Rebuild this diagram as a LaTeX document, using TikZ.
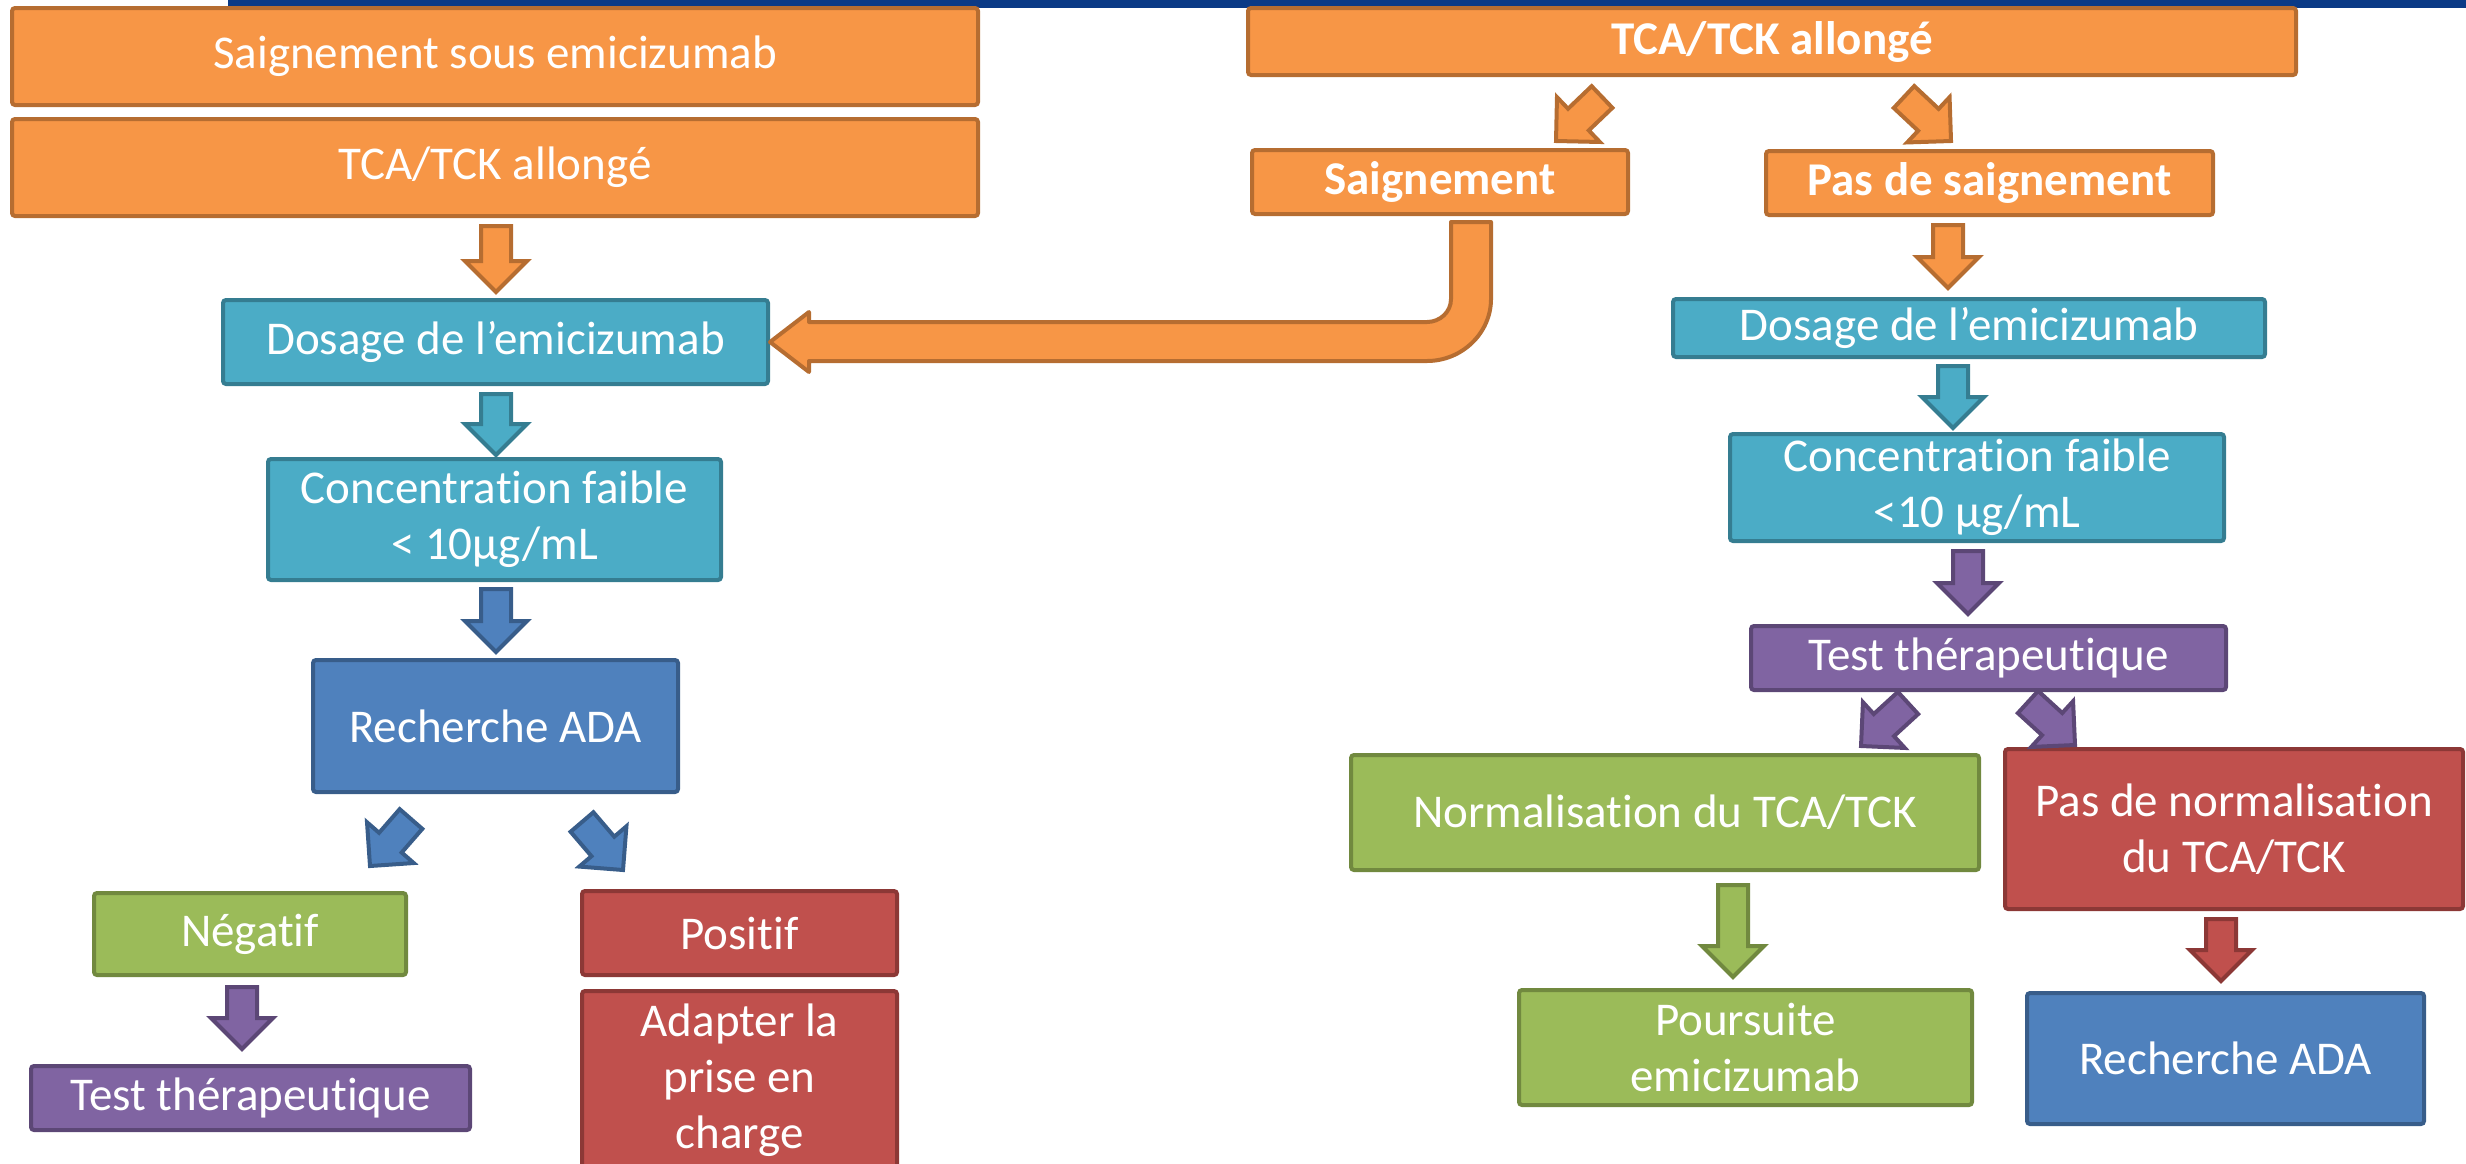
\documentclass[tikz,border=0pt]{standalone}
\usepackage{fontspec}
\setmainfont{Carlito}[Ligatures=NoCommon]
\usetikzlibrary{calc}
\definecolor{oF}{HTML}{F79646}\definecolor{oD}{HTML}{B66D31}
\definecolor{tF}{HTML}{4BACC6}\definecolor{tD}{HTML}{357D91}
\definecolor{bF}{HTML}{4F81BD}\definecolor{bD}{HTML}{385D8A}
\definecolor{pF}{HTML}{8064A2}\definecolor{pD}{HTML}{5C4776}
\definecolor{gF}{HTML}{9BBB59}\definecolor{gD}{HTML}{71893F}
\definecolor{rF}{HTML}{C0504D}\definecolor{rD}{HTML}{8C3836}
\definecolor{barblue}{HTML}{0A3A86}
\newcommand\blockarr[3]{%
  \coordinate (bA) at #2; \coordinate (bB) at #3;
  \coordinate (bH) at ($(bB)!15.5pt!(bA)$);
  \path[#1] ($(bA)!7.5pt!90:(bB)$) -- ($(bH)!7.5pt!90:(bB)$) -- ($(bH)!15.5pt!90:(bB)$)
    -- (bB) -- ($(bH)!15.5pt!-90:(bB)$) -- ($(bH)!7.5pt!-90:(bB)$) -- ($(bA)!7.5pt!-90:(bB)$) -- cycle;}
\begin{document}
\begin{tikzpicture}[x=0.5pt,y=-0.5pt,
  box/.style={line width=2pt, rounded corners=1.5pt, inner sep=0pt, align=center, text=white,
    font=\fontsize{23.5}{28}\selectfont},
  obox/.style={box, draw=oD, fill=oF},
  tbox/.style={box, draw=tD, fill=tF},
  bluebox/.style={box, draw=bD, fill=bF},
  pbox/.style={box, draw=pD, fill=pF},
  gbox/.style={box, draw=gD, fill=gF},
  rbox/.style={box, draw=rD, fill=rF},
  arr/.style={line width=2pt, line join=miter},
  oarr/.style={arr, draw=oD, fill=oF},
  tarr/.style={arr, draw=tD, fill=tF},
  bluearr/.style={arr, draw=bD, fill=bF},
  parr/.style={arr, draw=pD, fill=pF},
  garr/.style={arr, draw=gD, fill=gF},
  rarr/.style={arr, draw=rD, fill=rF}]
\useasboundingbox (0,0) rectangle (2466,1163);
\clip (0,0) rectangle (2466,1163);
\fill[barblue] (228,0) rectangle (2466,8);
% left column
\node[obox, minimum width=483pt, minimum height=48.5pt] (b1) at (495,56.5) {Saignement sous emicizumab};
\node[obox, minimum width=483pt, minimum height=48.5pt] (b2) at (495,167.5) {TCA/TCK allongé};
\node[tbox, minimum width=272.5pt, minimum height=42pt] (dosL) at (495.5,342) {Dosage de l’emicizumab};
\node[tbox, minimum width=226.5pt, minimum height=60.5pt] (concL) at (494.5,519.5) {Concentration faible\\< 10µg/mL};
\node[bluebox, minimum width=182.5pt, minimum height=66pt] (adaL) at (495.5,726) {Recherche ADA};
\node[gbox, minimum width=156pt, minimum height=41pt] (neg) at (250,934) {Négatif};
\node[rbox, minimum width=157.5pt, minimum height=42pt] (pos) at (739.5,933) {Positif};
\node[rbox, minimum width=157.5pt, minimum height=89pt] (adapt) at (739.5,1080) {Adapter la\\prise en\\charge};
\node[pbox, minimum width=219.5pt, minimum height=32pt] (testL) at (250.5,1098) {Test thérapeutique};
% right column
\node[obox, minimum width=524pt, minimum height=33.5pt, font=\fontsize{23.5}{28}\selectfont\bfseries] (top) at (1772,41.5) {TCA/TCK allongé};
\node[obox, minimum width=188pt, minimum height=32pt, font=\fontsize{23.5}{28}\selectfont\bfseries] (saign) at (1440,182) {Saignement};
\node[obox, minimum width=223.5pt, minimum height=32pt, font=\fontsize{23.5}{28}\selectfont\bfseries] (pas) at (1989.5,183) {Pas de saignement};
\node[tbox, minimum width=296pt, minimum height=29pt] (dosR) at (1969,328) {Dosage de l’emicizumab};
\node[tbox, minimum width=247pt, minimum height=53.5pt] (concR) at (1977,487.5) {Concentration faible\\<10 µg/mL};
\node[pbox, minimum width=237.5pt, minimum height=32pt] (testR) at (1988.5,658) {Test thérapeutique};
\node[gbox, minimum width=314pt, minimum height=57.5pt] (norm) at (1665,812.5) {Normalisation du TCA/TCK};
\node[rbox, minimum width=229pt, minimum height=80pt] (pasnorm) at (2234,829) {Pas de normalisation\\du TCA/TCK};
\node[gbox, minimum width=226.5pt, minimum height=57.5pt] (pours) at (1745.5,1047.5) {Poursuite\\emicizumab};
\node[bluebox, minimum width=198.5pt, minimum height=65.5pt] (adaR) at (2225.5,1058.5) {Recherche ADA};
% block arrows, left
\blockarr{oarr}{($(b2.south)+(1,8)$)}{($(dosL.north)+(0.5,-6)$)}
\blockarr{tarr}{($(dosL.south)+(0.5,8)$)}{($(concL.north)+(1.5,-2)$)}
\blockarr{bluearr}{($(concL.south)+(1.5,7)$)}{($(adaL.north)+(0.5,-6)$)}
\blockarr{bluearr}{($(adaL.south)+(-84.5,25)$)}{($(neg.north)+(120,-25)$)}
\blockarr{bluearr}{($(adaL.south)+(86.5,28)$)}{($(pos.north)+(-116.5,-19)$)}
\blockarr{parr}{($(neg.south)+(-8,10)$)}{($(testL.north)+(-8.5,-15)$)}
% block arrows, right
\blockarr{oarr}{($(top.south)+(-170,20)$)}{($(saign.north)+(116,-7)$)}
\blockarr{oarr}{($(top.south)+(132,20)$)}{($(pas.north)+(-38.5,-8)$)}
\blockarr{oarr}{($(pas.south)+(-41.5,8)$)}{($(dosR.north)+(-21,-9)$)}
\blockarr{tarr}{($(dosR.south)+(-16,7)$)}{($(concR.north)+(-24,-4)$)}
\blockarr{parr}{($(concR.south)+(-9,8)$)}{($(testR.north)+(-20.5,-10)$)}
\blockarr{parr}{($(testR.south)+(-80.5,11)$)}{($(norm.north)+(196,-7)$)}
\blockarr{parr}{($(testR.south)+(39.5,10)$)}{($(pasnorm.north)+(-159,-2)$)}
\blockarr{garr}{($(norm.south)+(68,13)$)}{($(pours.north)+(-12.5,-11)$)}
\blockarr{rarr}{($(pasnorm.south)+(-13,8)$)}{($(adaR.north)+(-4.5,-10)$)}
% bent arrow from Saignement to left dosage
\path[oarr, line join=round] let \p1=($(saign.south)+(31,6)$), \p2=(dosL.east) in
  (\x1-10pt,\y1) -- (\x1+10pt,\y1) -- (\x1+10pt,\y2+21.5pt)
  .. controls (\x1+10pt,\y2+4.5pt) and (\x1-4.5pt,\y2-9.5pt) .. (\x1-22pt,\y2-9.5pt)
  -- (\x2+19.5pt,\y2-9.5pt) -- (\x2+19.5pt,\y2-15pt) -- (\x2,\y2) -- (\x2+19.5pt,\y2+15pt)
  -- (\x2+19.5pt,\y2+10pt) -- (\x1-22pt,\y2+10pt)
  .. controls (\x1-15.5pt,\y2+10pt) and (\x1-10pt,\y2+15pt) .. (\x1-10pt,\y2+21.5pt) -- cycle;
\end{tikzpicture}
\end{document}
